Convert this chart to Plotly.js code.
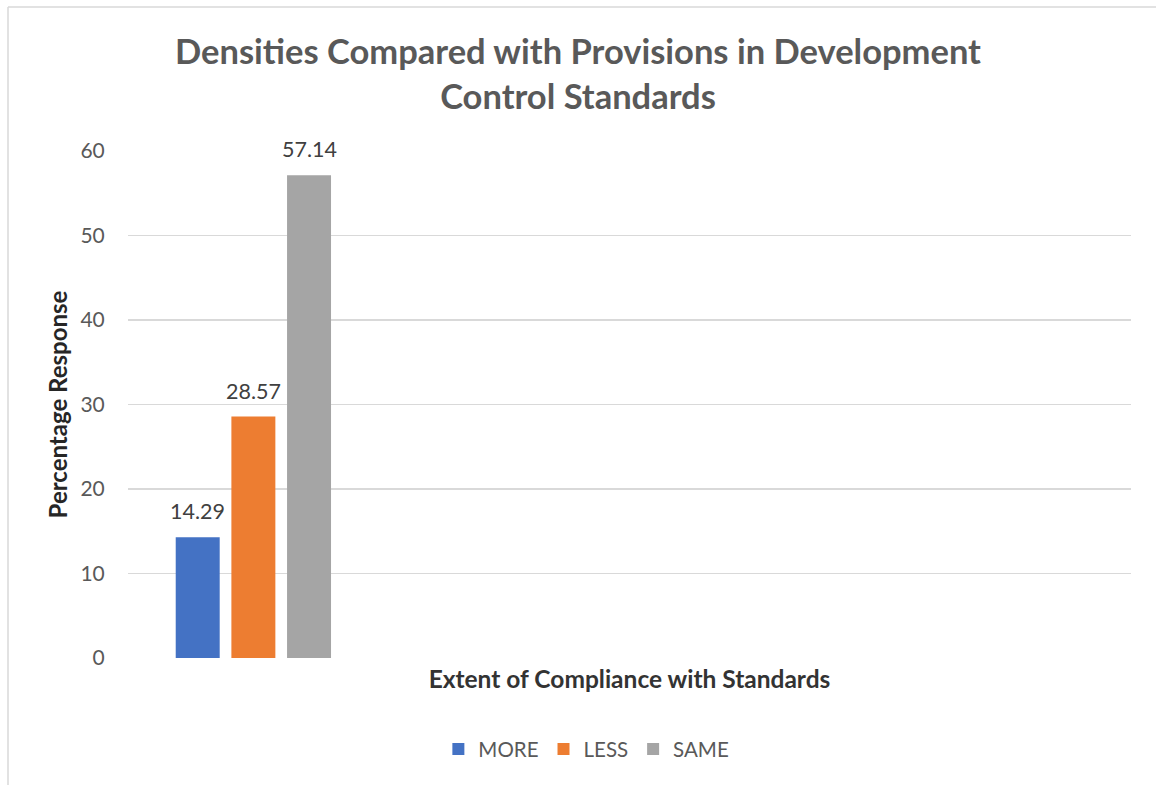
<!DOCTYPE html>
<html>
<head>
<meta charset="utf-8">
<script src="https://cdn.plot.ly/plotly-3.0.1.min.js"></script>
<style>html,body{margin:0;padding:0;background:#fff;}#chart{width:1156px;height:785px;}</style>
</head>
<body>
<div id="chart"></div>
<script>
const categories = ["Extent of Compliance with Standards"];
const seriesNames = ["MORE", "LESS", "SAME"];
const seriesValues = [[14.29], [28.57], [57.14]];
const seriesColors = ["#4472C4", "#ED7D31", "#A5A5A5"];
const yTicks = [0, 10, 20, 30, 40, 50, 60];

const FONT = "Lato, 'Open Sans', sans-serif";
const bargap = 0.334, bargroupgap = 0.21;

const traces = seriesNames.map((n, i) => ({
  type: 'bar', name: n, x: categories, y: seriesValues[i],
  marker: {color: seriesColors[i]}, hoverinfo: 'none'
}));

const slot = (1 - bargap) / seriesNames.length;
const annotations = [];
seriesNames.forEach((n, i) => {
  seriesValues[i].forEach((v, j) => {
    annotations.push({
      x: j + (i - (seriesNames.length - 1) / 2) * slot, y: v, xref: 'x', yref: 'y',
      text: v.toFixed(2), showarrow: false, yanchor: 'bottom', yshift: 11,
      font: {family: FONT, size: 21.5, color: '#404040'}
    });
  });
});

const layout = {
  width: 1156, height: 785,
  margin: {l: 128, r: 25, t: 151, b: 127},
  paper_bgcolor: '#fff', plot_bgcolor: '#fff',
  title: {text: 'Densities Compared with Provisions in Development<br>Control Standards',
    font: {family: FONT, size: 34.5, color: '#595959', weight: 'bold'},
    x: 0.5, xanchor: 'center', y: 0.918, yanchor: 'middle'},
  barmode: 'group', bargap: bargap, bargroupgap: bargroupgap,
  showlegend: true,
  legend: {orientation: 'h', x: 0.457, xanchor: 'center', y: -0.18, yanchor: 'middle',
    itemwidth: 30, font: {family: FONT, size: 20.5, color: '#595959'}, traceorder: 'normal'},
  xaxis: {type: 'category', range: [-0.5, 3.5], showticklabels: false, showgrid: false,
    zeroline: false, showline: false, ticks: '',
    title: {text: '<b>' + categories[0] + '</b>', standoff: 12,
      font: {family: FONT, size: 24.5, color: '#333333'}}},
  yaxis: {range: [0, 60], tickvals: yTicks, showgrid: true, gridcolor: '#d9d9d9', gridwidth: 1.3,
    zeroline: false, showline: false, ticks: 'outside', ticklen: 18, tickcolor: 'rgba(0,0,0,0)',
    tickfont: {family: FONT, size: 21, color: '#595959'},
    title: {text: '<b>Percentage Response</b>', standoff: 6,
      font: {family: FONT, size: 24, color: '#262626'}}},
  annotations: annotations,
  shapes: [
    {type: 'line', xref: 'paper', yref: 'paper', x0: -120/1003, x1: 1.05, y0: 651/507, y1: 651/507,
      line: {color: '#d9d9d9', width: 1.5}},
    {type: 'line', xref: 'paper', yref: 'paper', x0: -120/1003, x1: -120/1003, y0: 651/507, y1: -0.3,
      line: {color: '#d9d9d9', width: 1.5}}
  ]
};

Plotly.newPlot('chart', traces, layout, {displayModeBar: false, staticPlot: true});
</script>
</body>
</html>
